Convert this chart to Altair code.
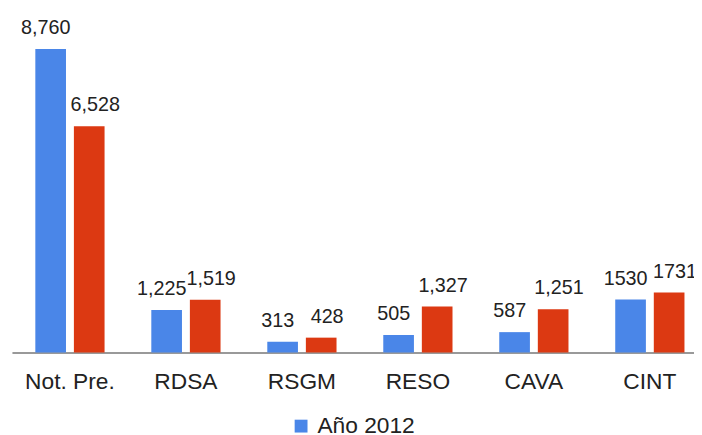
import altair as alt
import pandas as pd

categories = ["Not. Pre.", "RDSA", "RSGM", "RESO", "CAVA", "CINT"]
series = ["Año 2012", "Año 2013"]
values_2012 = [8760, 1225, 313, 505, 587, 1530]
values_2013 = [6528, 1519, 428, 1327, 1251, 1731]
labels_2012 = ["8,760", "1,225", "313", "505", "587", "1530"]
labels_2013 = ["6,528", "1,519", "428", "1,327", "1,251", "1731"]

rows = []
for i, c in enumerate(categories):
    rows.append(dict(cat=c, serie=series[0], value=values_2012[i], label=labels_2012[i]))
    rows.append(dict(cat=c, serie=series[1], value=values_2013[i], label=labels_2013[i]))
df = pd.DataFrame(rows)

FONT = "Liberation Sans"

x = alt.X(
    "cat:N", sort=categories,
    scale=alt.Scale(domain=categories, range=[0, 704], paddingInner=0, paddingOuter=0),
    axis=alt.Axis(title=None, labelAngle=0, ticks=False, tickSize=0, labelPadding=18,
                  labelFontSize=23, labelColor="#222222", labelFont=FONT,
                  domainColor="#999999", domainWidth=2, grid=False),
)
xo = alt.XOffset("serie:N", sort=series,
                 scale=alt.Scale(domain=series, paddingInner=0.205, paddingOuter=0.606))
y = alt.Y("value:Q", scale=alt.Scale(domain=[0, 9872], nice=False, zero=True), axis=None)
color = alt.Color(
    "serie:N", sort=series,
    scale=alt.Scale(domain=series, range=["#4a86e8", "#dc3912"]),
    legend=alt.Legend(values=["Año 2012"], orient="none", legendX=281, legendY=409,
                      title=None, symbolType="square", symbolSize=169,
                      labelFontSize=23, labelFont=FONT, labelColor="#222222",
                      symbolStrokeWidth=0, padding=0, labelOffset=5),
)

bars = alt.Chart(df).mark_bar().encode(x=x, xOffset=xo, y=y, color=color)

t1 = alt.Chart(df).transform_filter(alt.datum.serie == series[0]).mark_text(
    baseline="alphabetic", dy=-15, dx=-5, fontSize=20, font=FONT, color="#222222"
).encode(x=x, xOffset=xo, y=y, text="label:N")

t2 = alt.Chart(df).transform_filter(alt.datum.serie == series[1]).mark_text(
    baseline="alphabetic", dy=-15, dx=6, fontSize=20, font=FONT, color="#222222"
).encode(x=x, xOffset=xo, y=y, text="label:N")

chart = alt.layer(bars, t1, t2).properties(
    width=690, height=346,
    autosize=alt.AutoSizeParams(type="none"),
    padding={"left": 4, "top": 0, "right": 0, "bottom": 81},
).configure_view(stroke=None)

chart.save("out.html", embed_options={"renderer": "svg", "actions": False})
